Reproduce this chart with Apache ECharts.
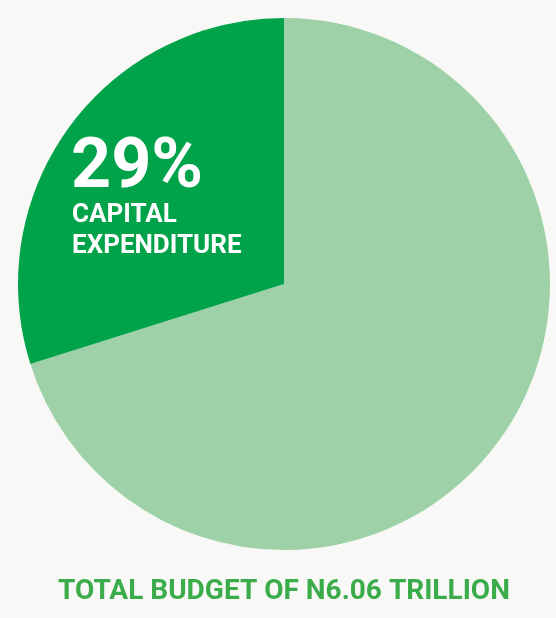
<!DOCTYPE html>
<html><head><meta charset="utf-8">
<script src="https://cdn.jsdelivr.net/npm/echarts@6/dist/echarts.min.js"></script>
<style>html,body{margin:0;padding:0;background:#f8f8f6}#c{width:556px;height:618px}</style>
</head><body><div id="c"></div>
<script>
const categories = ['Other Expenditure', 'Capital Expenditure'];
const values = [4.25, 1.81];
const sliceLabel = ['29%', 'CAPITAL', 'EXPENDITURE'];
const titleText = 'TOTAL BUDGET OF N6.06 TRILLION';

const chart = echarts.init(document.getElementById('c'));
chart.setOption({
  backgroundColor: '#f8f8f6',
  animation: false,
  title: {
    text: titleText, left: 279, textAlign: 'center', top: 573,
    textStyle: { fontFamily: 'Roboto', fontWeight: 'bold', fontSize: 28, color: '#3aac4a' }
  },
  series: [{
    type: 'pie', center: [284, 284], radius: [0, 266], startAngle: 90, clockwise: true,
    label: { show: false }, labelLine: { show: false }, silent: true,
    itemStyle: { borderWidth: 0 },
    data: categories.map((n, i) => ({ name: n, value: values[i],
      itemStyle: { color: i === 0 ? '#9ed1a8' : '#00a34a' } }))
  }],
  graphic: [
    { type: 'text', z: 100, left: 71, top: 134, style: { text: sliceLabel[0], fill: '#fff', font: 'bold 70px Roboto' } },
    { type: 'text', z: 100, left: 72, top: 202, style: { text: sliceLabel[1], fill: '#fff', font: 'bold 26px Roboto' } },
    { type: 'text', z: 100, left: 72, top: 233, style: { text: sliceLabel[2], fill: '#fff', font: 'bold 26px Roboto' } }
  ]
});
</script></body></html>
